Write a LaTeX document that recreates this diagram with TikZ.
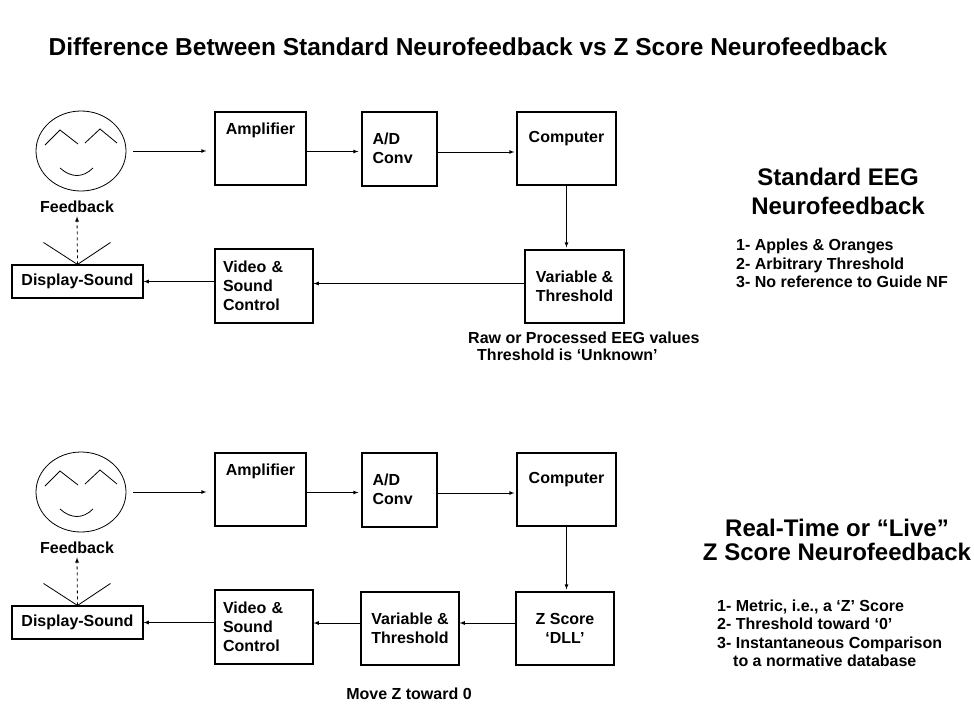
\documentclass[tikz,border=0pt]{standalone}
\usepackage{fontspec}
\setmainfont{Liberation Sans}
\usepackage{pgf,tikz}
\usetikzlibrary{arrows,positioning,calc,shapes.geometric}
\newcommand{\blokfont}{\bfseries\fontsize{16}{19}\selectfont}
\tikzset{blok/.style={draw, line width=1.1pt, inner sep=0pt, minimum height=73pt, font=\blokfont},
  pijl/.style={-latex, line width=0.8pt},
  toplbl/.style={anchor=north, inner sep=0pt, font=\blokfont},
  headtxt/.style={align=center, inner sep=0pt, font=\bfseries\fontsize{24}{29}\selectfont},
  listtxt/.style={align=left, inner sep=0pt, font=\bfseries\fontsize{16}{18.5}\selectfont},
  notetxt/.style={align=left, inner sep=0pt, font=\bfseries\fontsize{16}{17}\selectfont}}

\begin{document}
\begin{tikzpicture}[x=1pt,y=-1pt]
\useasboundingbox (0,0) rectangle (974,704);
\node (title) at (468,47) {\bfseries\fontsize{24.5}{29}\selectfont Difference Between Standard Neurofeedback vs Z Score Neurofeedback};
\foreach \r/\dy in {a/0,b/341}{
  \node[draw, ellipse, line width=0.8pt, minimum width=90pt, minimum height=80pt] (face\r) at (81,151+\dy) {};
  \begin{scope}[shift={(face\r.center)}, line width=0.8pt]
    \draw (-36,-6) -- (-21,-21) -- (-3,-7);
    \draw (4,-8) -- (19,-22) -- (36,-8);
    \draw (-21,17) .. controls (-10,27) and (2,27) .. (12,17);
  \end{scope}
  \node[font=\blokfont] (fb\r) at (77,207+\dy) {Feedback};
  \node[blok, minimum width=131pt, minimum height=33pt] (disp\r) at (77.5,281.5+\dy) {Display-Sound};
  \node[blok, minimum width=98pt, minimum height=74pt, text width=82pt, align=left] (vid\r) at (264,286+\dy) {Video \&\\Sound\\Control};
  \node[blok, minimum width=91pt, label={[toplbl, yshift=-11pt]north:Amplifier}] (amp\r) at (260.5,148.5+\dy) {};
  \node[blok, minimum width=75pt, minimum height=74pt, label={[toplbl, anchor=north west, align=left, xshift=11pt, yshift=-21pt]north west:A/D\\Conv}] (ad\r) at (399.5,149+\dy) {};
  \node[blok, minimum width=99pt, label={[toplbl, yshift=-20pt]north:Computer}] (comp\r) at (566.5,148.5+\dy) {};
  \draw[pijl, shorten <=7pt, shorten >=8pt] (face\r.east) -- (face\r.east -| amp\r.west);
  \draw[pijl, shorten >=3pt] ([yshift=-3pt]amp\r.east) -- ([yshift=-3pt]amp\r.east -| ad\r.west);
  \draw[pijl, shorten >=2pt] ([yshift=-3pt]ad\r.east) -- ([yshift=-3pt]ad\r.east -| comp\r.west);
  \draw[pijl] (vid\r.west |- disp\r.east) -- (disp\r.east);
  \draw[pijl, dashed] (disp\r.north) -- (fb\r.south);
  \draw[line width=0.8pt] ([shift={(-34,-22)}]disp\r.north) -- (disp\r.north) -- ([shift={(33,-22)}]disp\r.north);
}
\node[blok, minimum width=99pt, align=left] (vara) at (574.5,286.5) {Variable \&\\Threshold};
\draw[pijl, shorten >=2pt] (compa.south) -- (compa.south |- vara.north);
\draw[pijl] ([yshift=3pt]vara.west) -- ([yshift=3pt]vara.west -| vida.east);
\node[notetxt, anchor=north west] (rawtxt) at (468,332) {Raw or Processed EEG values\\\hspace*{9pt}Threshold is ‘Unknown’};
\node[headtxt] (hda) at (838,191.5) {Standard EEG\\Neurofeedback};
\node[listtxt, anchor=west] (lsta) at (736,263.5) {1- Apples \& Oranges\\2- Arbitrary Threshold\\3- No reference to Guide NF};

\node[blok, minimum width=98pt, align=center] (zsc) at (565,628.5) {Z Score\\‘DLL’};
\node[blok, minimum width=98pt, align=left] (varb) at (410,628.5) {Variable \&\\Threshold};
\draw[pijl, shorten >=2pt] (compb.south) -- (compb.south |- zsc.north);
\draw[pijl] ([yshift=5.5pt]zsc.west) -- ([yshift=5.5pt]zsc.west -| varb.east);
\draw[pijl] ([yshift=5.5pt]varb.west) -- ([yshift=5.5pt]varb.west -| vidb.east);
\node[notetxt] (move) at (409,694) {Move Z toward 0};
\node[headtxt, font=\bfseries\fontsize{24}{24}\selectfont] (hdb) at (837,539.5) {Real-Time or “Live”\\Z Score Neurofeedback};
\node[listtxt, anchor=west] (lstb) at (717,633.5) {1- Metric, i.e., a ‘Z’ Score\\2- Threshold toward ‘0’\\3- Instantaneous Comparison\\\hspace*{16pt}to a normative database};
\end{tikzpicture}
\end{document}
